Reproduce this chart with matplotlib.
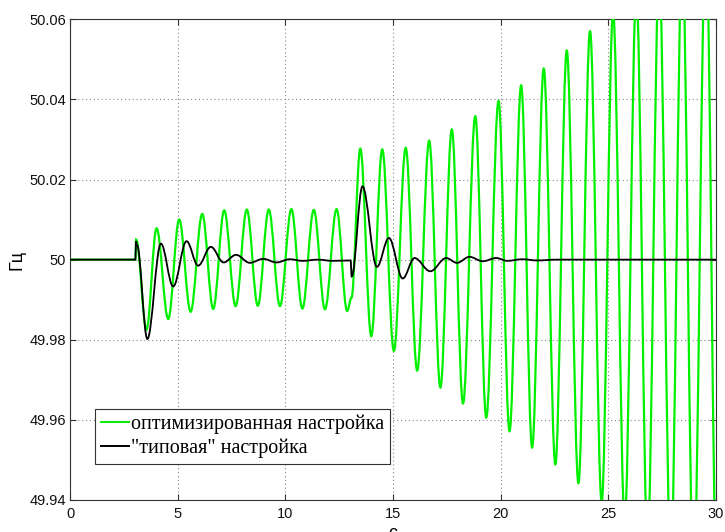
import matplotlib
matplotlib.use("Agg")
import matplotlib.pyplot as plt
from matplotlib.path import Path
from matplotlib.patches import PathPatch
from matplotlib.lines import Line2D

# Frequency response, turning points of each curve (time in s, frequency in Hz)
opt_t = [0.0, 3.03, 3.07, 3.55, 4.02, 4.56, 5.07, 5.60, 6.14, 6.65, 7.16, 7.69,
         8.21, 8.72, 9.23, 9.75, 10.28, 10.79, 11.32, 11.84, 12.38, 12.87, 13.07,
         13.48, 13.99, 14.50, 15.04, 15.59, 16.12, 16.68, 17.20, 17.73, 18.25,
         18.82, 19.33, 19.90, 20.41, 20.95, 21.46, 22.00, 22.54, 23.07, 23.61,
         24.15, 24.69, 25.22, 25.76, 26.30, 26.82, 27.36, 27.90, 28.43, 28.96,
         29.53, 30.05]
opt_f = [50.0, 50.0, 50.005, 49.9825, 50.0078, 49.9852, 50.0100, 49.9870,
         50.0114, 49.9877, 50.0123, 49.9884, 50.0125, 49.9885, 50.0125, 49.9884,
         50.0126, 49.9878, 50.0124, 49.9876, 50.0126, 49.9872, 49.9905, 50.0277,
         49.9809, 50.0275, 49.9772, 50.0279, 49.9723, 50.0297, 49.9681, 50.0325,
         49.9641, 50.0358, 49.9606, 50.0396, 49.9572, 50.0435, 49.9531, 50.0477,
         49.9489, 50.0522, 49.9442, 50.0570, 49.9395, 50.0618, 49.9348, 50.0665,
         49.9300, 50.0712, 49.9250, 50.0760, 49.9200, 50.0810, 49.9150]

typ_t = [0.0, 3.03, 3.07, 3.11, 3.59, 4.22, 4.79, 5.41, 5.95, 6.54, 7.13, 7.71,
         8.35, 8.97, 9.59, 10.20, 10.80, 11.50, 12.20, 13.03, 13.08, 13.58,
         14.25, 14.81, 15.45, 16.00, 16.73, 17.47, 17.97, 18.55, 19.17, 19.79,
         20.30, 21.00, 21.70, 22.60, 30.0]
typ_f = [50.0, 50.0, 50.0046, 50.0036, 49.9802, 50.0040, 49.9933, 50.0046,
         49.9985, 50.0032, 49.9993, 50.0012, 49.9992, 50.0002, 49.9993, 50.0001,
         49.9997, 50.0, 49.9997, 49.9998, 49.9958, 50.0183, 49.9982, 50.0054,
         49.9953, 50.0004, 49.9971, 50.0004, 49.9992, 50.0007, 49.9996, 50.0004,
         49.9997, 50.0001, 49.9998, 50.0, 50.0]

labels = ["оптимизированная настройка", "\"типовая\" настройка"]
x_ticks = [0, 5, 10, 15, 20, 25, 30]
y_ticks = [49.94, 49.96, 49.98, 50.0, 50.02, 50.04, 50.06]
y_tick_labels = ["49.94", "49.96", "49.98", "50", "50.02", "50.04", "50.06"]

GREEN = "#00f000"
BLACK = "#000000"


def smooth_path(ts, vs, k=0.3634):
    """Cubic Bezier path through turning points with flat tangents at each."""
    verts = [(ts[0], vs[0])]
    codes = [Path.MOVETO]
    for i in range(1, len(ts)):
        t0, v0, t1, v1 = ts[i - 1], vs[i - 1], ts[i], vs[i]
        dt = t1 - t0
        verts += [(t0 + k * dt, v0), (t1 - k * dt, v1), (t1, v1)]
        codes += [Path.CURVE4] * 3
    return Path(verts, codes)


fig = plt.figure(figsize=(7.25, 5.32), dpi=100)
ax = fig.add_axes([0.0966, 0.0602, 0.891, 0.9035])

ax.add_patch(PathPatch(smooth_path(opt_t, opt_f), fill=False,
                       edgecolor=GREEN, lw=1.6, zorder=3))
ax.add_patch(PathPatch(smooth_path(typ_t, typ_f), fill=False,
                       edgecolor=BLACK, lw=1.3, zorder=4))

ax.set_xlim(0, 30)
ax.set_ylim(49.94, 50.06)
ax.set_xticks(x_ticks)
ax.set_yticks(y_ticks)
ax.set_yticklabels(y_tick_labels)

for lab in ax.get_xticklabels() + ax.get_yticklabels():
    lab.set_fontfamily("Liberation Sans")
    lab.set_fontsize(10.5)

ax.tick_params(direction="in", length=4, width=0.8, top=True, right=True,
               colors="#333333", labelcolor="#111111")
ax.tick_params(axis="x", pad=5)
ax.tick_params(axis="y", pad=3)

ax.grid(True, linestyle=(0, (1, 2.5)), color="#888888", linewidth=0.8)
ax.set_axisbelow(True)
for sp in ax.spines.values():
    sp.set_color("#333333")
    sp.set_linewidth(0.8)

ax.set_ylabel("Гц", family="Liberation Sans", fontsize=13)
ax.yaxis.set_label_coords(-0.069, 0.5)
ax.set_xlabel("с", family="Liberation Sans", fontsize=13, labelpad=3)

handles = [Line2D([], [], color=GREEN, lw=1.4),
           Line2D([], [], color=BLACK, lw=1.4)]
leg = ax.legend(handles, labels, loc="lower left",
                bbox_to_anchor=(0.0387, 0.0749), borderaxespad=0,
                prop=dict(family="Liberation Serif", size=14.5),
                fancybox=False, framealpha=1, edgecolor="#333333",
                handlelength=1.4, handletextpad=0.1, borderpad=0.3,
                labelspacing=0.2)
leg.get_frame().set_linewidth(0.8)

fig.savefig("out.png", dpi=100)
